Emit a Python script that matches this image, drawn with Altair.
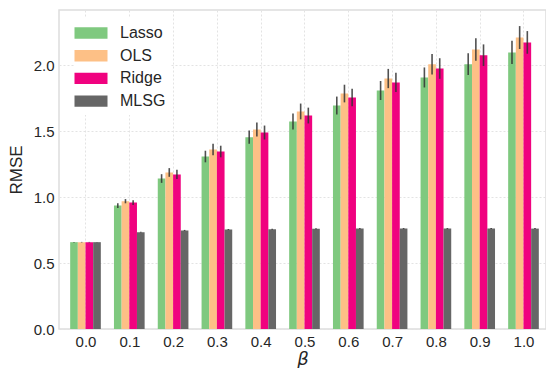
import altair as alt
import pandas as pd

# Noise level (beta) on the x axis
betas = [0.0, 0.1, 0.2, 0.3, 0.4, 0.5, 0.6, 0.7, 0.8, 0.9, 1.0]
methods = ["Lasso", "OLS", "Ridge", "MLSG"]
colors = ["#7fc97f", "#fdc086", "#f0027f", "#666666"]

# Mean RMSE per method
lasso = [0.659, 0.937, 1.142, 1.309, 1.456, 1.575, 1.696, 1.810, 1.909, 2.010, 2.099]
ols = [0.659, 0.970, 1.188, 1.362, 1.514, 1.651, 1.787, 1.901, 2.010, 2.121, 2.212]
ridge = [0.659, 0.960, 1.173, 1.347, 1.491, 1.620, 1.757, 1.871, 1.977, 2.078, 2.175]
mlsg = [0.659, 0.735, 0.748, 0.755, 0.757, 0.761, 0.762, 0.762, 0.762, 0.762, 0.762]

# Spread (half-length of the error bars)
lasso_err = [0.002, 0.018, 0.033, 0.044, 0.050, 0.060, 0.068, 0.072, 0.076, 0.082, 0.088]
ols_err = [0.002, 0.016, 0.033, 0.043, 0.053, 0.060, 0.067, 0.073, 0.078, 0.085, 0.087]
ridge_err = [0.002, 0.018, 0.035, 0.044, 0.053, 0.060, 0.066, 0.073, 0.078, 0.082, 0.086]
mlsg_err = [0.001, 0.003, 0.004, 0.004, 0.004, 0.004, 0.004, 0.004, 0.004, 0.004, 0.004]

bar_w = 0.0175

rows = []
for k, (m, vals, errs) in enumerate(zip(
        methods, [lasso, ols, ridge, mlsg], [lasso_err, ols_err, ridge_err, mlsg_err])):
    for b, v, e in zip(betas, vals, errs):
        c = b + (k - 1.5) * bar_w
        rows.append({"beta": b, "method": m, "rmse": v, "err": e, "order": k,
                     "xc": c, "x0": c - bar_w / 2, "x1": c + bar_w / 2,
                     "lo": v - e, "hi": v + e})
df = pd.DataFrame(rows)

font = "Liberation Sans"
xscale = alt.Scale(domain=[-0.0605, 1.0514], nice=False, zero=False, padding=0)
yscale = alt.Scale(domain=[0, 2.421], nice=False, padding=0)

# wide, flat swatch for the legend entries
legend_shape = "M-1.5,-0.52H1.5V0.52H-1.5Z"

bars = alt.Chart(df).mark_bar(stroke=None, orient="vertical").encode(
    x=alt.X("x0:Q", scale=xscale, axis=alt.Axis(
        values=betas, format=".1f", title="β", grid=True)),
    x2="x1:Q",
    y=alt.Y("rmse:Q", scale=yscale, axis=alt.Axis(
        values=[0, 0.5, 1.0, 1.5, 2.0], format=".1f", title="RMSE", grid=True)),
    y2=alt.datum(0),
    color=alt.Color("method:N", sort=methods,
                    scale=alt.Scale(domain=methods, range=colors),
                    legend=alt.Legend(
                        title=None, orient="none", legendX=16, legendY=7,
                        symbolType=legend_shape, symbolSize=484,
                        symbolStrokeWidth=0, symbolOpacity=1,
                        labelFont=font, labelFontSize=16, labelColor="#262626",
                        labelOffset=18, rowPadding=3.7, padding=5,
                        fillColor="white")),
)

errs = alt.Chart(df).mark_rule(color="#333333", strokeWidth=1.6, opacity=0.85).encode(
    x=alt.X("xc:Q", scale=xscale),
    y=alt.Y("lo:Q", scale=yscale),
    y2="hi:Q",
)

chart = alt.layer(bars, errs).properties(
    width=487, height=319,
    padding={"left": 59, "top": 10, "right": 0, "bottom": 39},
    autosize=alt.AutoSizeParams(type="none"),
).configure_view(
    stroke="#dddddd", strokeWidth=1.5
).configure_axis(
    labelFont=font, labelFontSize=15, labelColor="#262626",
    titleFont=font, titleFontSize=17, titleColor="#262626", titleFontWeight="normal",
    ticks=False, domain=False, labelPadding=5,
    gridColor="#e3e3e3", gridDash=[2, 2], gridWidth=1,
).configure_axisX(
    titleFont="DejaVu Sans", titleFontStyle="italic", titleFontSize=18,
    titlePadding=1, labelPadding=5,
).configure_axisY(
    titlePadding=8,
)

chart.save("out.html", embed_options={"renderer": "svg", "actions": False})
